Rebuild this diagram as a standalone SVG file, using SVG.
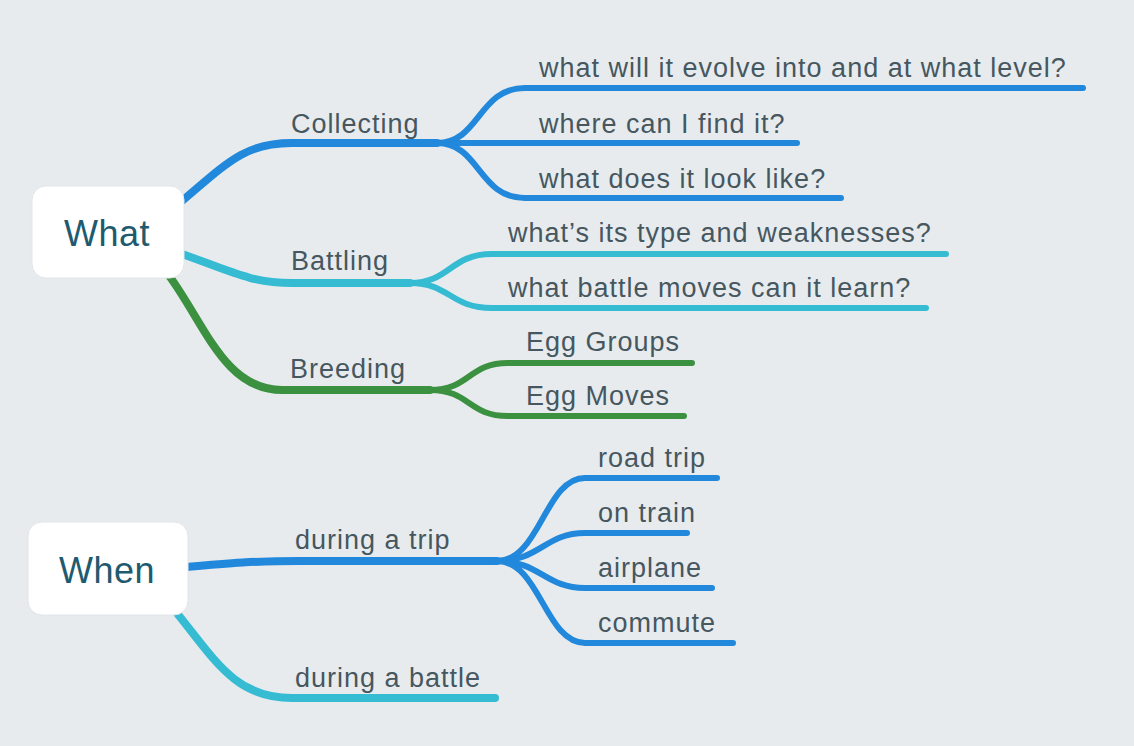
<svg xmlns="http://www.w3.org/2000/svg" width="1134" height="746" viewBox="0 0 1134 746">
<style>
.bg{fill:#e7ebee}
.node rect{fill:#ffffff;stroke:#e2e6e9;stroke-width:1}
.root{font-family:"Liberation Sans",Arial,sans-serif;font-size:36px;fill:#215a6e;text-anchor:middle;letter-spacing:0.5px}
.lbl{font-family:"Liberation Sans",Arial,sans-serif;font-size:27px;fill:#46575f;letter-spacing:1px}
.c path{fill:none;stroke-linecap:round;stroke-linejoin:round}
.main{stroke-width:8}
.sub{stroke-width:6}
.blue{stroke:#2188dc}
.cyan{stroke:#35bcd3}
.green{stroke:#3b9140}
</style>
<rect class="bg" x="0" y="0" width="1134" height="746"/>
<g id="connectors" class="c">
  <path class="main blue" d="M182,201 C228,162 245,143 292,143 L437,143"/>
  <path class="main cyan" d="M182,254 C228,270 250,283 292,283 L410,283"/>
  <path class="main green" d="M170,277 C205,325 225,390 282,390 L430,390"/>
  <path class="main blue" d="M186,567 C230,563 255,561 300,561 L497,561"/>
  <path class="main cyan" d="M176,612 C215,660 235,698 292,698 L495,698"/>
  <path class="sub blue" d="M437,143 C480,143 478,88 525,88 L1083,88"/>
  <path class="sub blue" d="M437,143 L797,143"/>
  <path class="sub blue" d="M437,143 C480,143 478,198 525,198 L841,198"/>
  <path class="sub cyan" d="M410,283 C450,283 450,254 492,254 L946,254"/>
  <path class="sub cyan" d="M410,283 C450,283 450,308 492,308 L926,308"/>
  <path class="sub green" d="M430,390 C470,390 468,363 508,363 L692,363"/>
  <path class="sub green" d="M430,390 C470,390 468,416 508,416 L684,416"/>
  <path class="sub blue" d="M497,561 C540,561 545,478 585,478 L717,478"/>
  <path class="sub blue" d="M497,561 C540,561 545,533 585,533 L687,533"/>
  <path class="sub blue" d="M497,561 C540,561 545,588 585,588 L712,588"/>
  <path class="sub blue" d="M497,561 C540,561 545,643 585,643 L733,643"/>
</g>
<g id="node-what" class="node"><rect x="32" y="186" width="152" height="92" rx="14"/><text class="root" x="107" y="246">What</text></g>
<g id="node-when" class="node"><rect x="28" y="522" width="160" height="93" rx="14"/><text class="root" x="107" y="583">When</text></g>
<g id="node-collecting"><text class="lbl" x="291" y="133">Collecting</text></g>
<g id="node-battling"><text class="lbl" x="291" y="270">Battling</text></g>
<g id="node-breeding"><text class="lbl" x="290" y="378">Breeding</text></g>
<g id="node-evolve"><text class="lbl" x="539" y="77">what will it evolve into and at what level?</text></g>
<g id="node-where"><text class="lbl" x="539" y="133">where can I find it?</text></g>
<g id="node-look"><text class="lbl" x="539" y="188">what does it look like?</text></g>
<g id="node-type"><text class="lbl" x="508" y="242">what’s its type and weaknesses?</text></g>
<g id="node-moves"><text class="lbl" x="508" y="297">what battle moves can it learn?</text></g>
<g id="node-egggroups"><text class="lbl" x="526" y="351">Egg Groups</text></g>
<g id="node-eggmoves"><text class="lbl" x="526" y="405">Egg Moves</text></g>
<g id="node-trip"><text class="lbl" x="295" y="549">during a trip</text></g>
<g id="node-battle"><text class="lbl" x="295" y="687">during a battle</text></g>
<g id="node-road"><text class="lbl" x="598" y="467">road trip</text></g>
<g id="node-train"><text class="lbl" x="598" y="522">on train</text></g>
<g id="node-airplane"><text class="lbl" x="598" y="577">airplane</text></g>
<g id="node-commute"><text class="lbl" x="598" y="632">commute</text></g>
</svg>
